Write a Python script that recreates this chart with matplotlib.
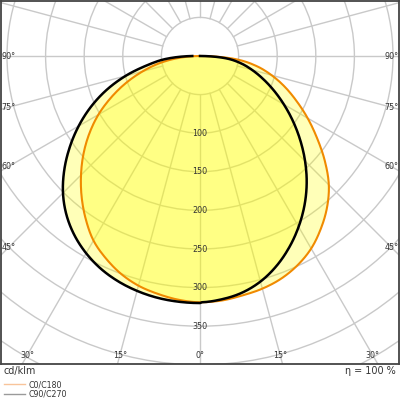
import numpy as np
import matplotlib
matplotlib.use("Agg")
import matplotlib.pyplot as plt
from matplotlib.patches import Circle
from matplotlib.lines import Line2D

# Luminous intensity distribution (cd/klm) at gamma angles (deg)
gamma = [0, 5, 10, 15, 20, 25, 30, 35, 40, 45, 50, 55, 60, 65, 70, 75, 80, 85, 90]
c0 = [319, 318, 315, 312, 307, 299, 288, 273, 256, 236, 211, 185, 161, 138, 117, 96, 74, 46, 0]
c180 = [319, 317, 313, 308, 300, 289, 276, 258, 238.5, 218, 197, 175, 152, 127, 102, 77, 53, 27, 0]
c90 = [319, 316.5, 311.5, 302.5, 289.5, 273.5, 255.5, 236, 215, 192.5, 169.5, 147, 125.5, 105.5, 87, 70, 53.5, 33.5, 0]
c270 = [320, 319.5, 318, 315, 310.5, 304, 295, 283.5, 269, 251, 229.5, 206, 181.5, 156, 129, 100, 70, 45, 10]
ring_values = [50, 100, 150, 200, 250, 300, 350, 400, 450, 500, 550, 600]
ring_labels = [100, 150, 200, 250, 300, 350]
side_angles = [90, 75, 60, 45]
bottom_angles = [0, 15, 30]
legend_labels = ["C0/C180", "C90/C270"]
efficiency = "η = 100 %"
unit = "cd/klm"

px = 0.772  # pixels per cd/klm
fig = plt.figure(figsize=(4, 4), dpi=100)
ax = fig.add_axes([1 / 400, 36 / 400, 398 / 400, 363 / 400])
xmin, xmax = -199 / px, 199 / px
ymin, ymax = -308 / px, 55 / px
ax.set_xlim(xmin, xmax)
ax.set_ylim(ymin, ymax)
ax.set_xticks([])
ax.set_yticks([])
for s in ax.spines.values():
    s.set_color("#444444")
    s.set_linewidth(1.3)

grid_c = "#c9c9c9"
for r in ring_values:
    ax.add_patch(Circle((0, 0), r, fill=False, ec=grid_c, lw=1.0, zorder=1))
for a in range(0, 360, 15):
    t = np.radians(a)
    ax.plot([50 * np.sin(t), 800 * np.sin(t)], [-50 * np.cos(t), -800 * np.cos(t)],
            color=grid_c, lw=1.0, zorder=1)


def smooth(vals, step=0.5):
    """Catmull-Rom interpolation of intensity over gamma."""
    g = np.array(gamma, dtype=float)
    v = np.array(vals, dtype=float)
    ge = np.concatenate([[-g[1]], g, [g[-1] + (g[-1] - g[-2])]])
    ve = np.concatenate([[v[1]], v, [2 * v[-1] - v[-2]]])
    fine = np.arange(0, 90 + step / 2, step)
    out = np.empty_like(fine)
    for k, x in enumerate(fine):
        i = min(int(x // 5), len(g) - 2)
        t = (x - g[i]) / 5.0
        p0, p1, p2, p3 = ve[i], ve[i + 1], ve[i + 2], ve[i + 3]
        out[k] = 0.5 * (2 * p1 + (-p0 + p2) * t + (2 * p0 - 5 * p1 + 4 * p2 - p3) * t ** 2
                        + (-p0 + 3 * p1 - 3 * p2 + p3) * t ** 3)
    return fine, np.clip(out, 0, None)


def curve(left, right):
    gf, L = smooth(left)
    _, R = smooth(right)
    g = np.radians(gf)
    xl = -L[::-1] * np.sin(g[::-1])
    yl = -L[::-1] * np.cos(g[::-1])
    xr = R[1:] * np.sin(g[1:])
    yr = -R[1:] * np.cos(g[1:])
    return np.concatenate([xl, xr]), np.concatenate([yl, yr])


xo, yo = curve(c180, c0)
xb, yb = curve(c270, c90)
ax.fill(xo, yo, color="#ffff00", alpha=0.28, lw=0, zorder=2)
ax.fill(xb, yb, color="#ffff00", alpha=0.28, lw=0, zorder=2)
ax.plot(xo, yo, color="#f08a00", lw=1.5, zorder=3)
ax.plot(xb, yb, color="black", lw=1.8, zorder=4)

lab_c = "#333333"
fs = 5.8
for r in ring_labels:
    ax.text(0, -r, str(r), ha="center", va="center", fontsize=fs, color=lab_c, zorder=5)

inset_x = 7.5 / px
for a in side_angles:
    t = np.radians(a)
    xl = xmin + inset_x
    y = -abs(xl) / np.tan(t) if a != 90 else 0.0
    ax.text(xl, y, f"{a}°", ha="center", va="center", fontsize=fs, color=lab_c, zorder=5)
    ax.text(-xl, y, f"{a}°", ha="center", va="center", fontsize=fs, color=lab_c, zorder=5)
yb_lab = ymin + 9 / px
for a in bottom_angles:
    t = np.radians(a)
    x = abs(yb_lab) * np.tan(t)
    ax.text(x, yb_lab, f"{a}°", ha="center", va="center", fontsize=fs, color=lab_c, zorder=5)
    if a != 0:
        ax.text(-x, yb_lab, f"{a}°", ha="center", va="center", fontsize=fs, color=lab_c, zorder=5)

fig.text(4 / 400, 29 / 400, unit, ha="left", va="center", fontsize=6.9, color="#333333")
fig.text(396 / 400, 29 / 400, efficiency, ha="right", va="center", fontsize=6.9, color="#333333")

handles = [Line2D([], [], color="#f8c49a", lw=1.0), Line2D([], [], color="#9a9a9a", lw=1.0)]
leg = fig.legend(handles, legend_labels, loc="upper left",
                 bbox_to_anchor=(4 / 400, 20 / 400), bbox_transform=fig.transFigure,
                 frameon=False, fontsize=5.7, handlelength=2.6, handletextpad=0.55,
                 labelspacing=0.05, borderpad=0.0, borderaxespad=0.0,
                 labelcolor="#333333")

fig.savefig("out.png", dpi=100)
